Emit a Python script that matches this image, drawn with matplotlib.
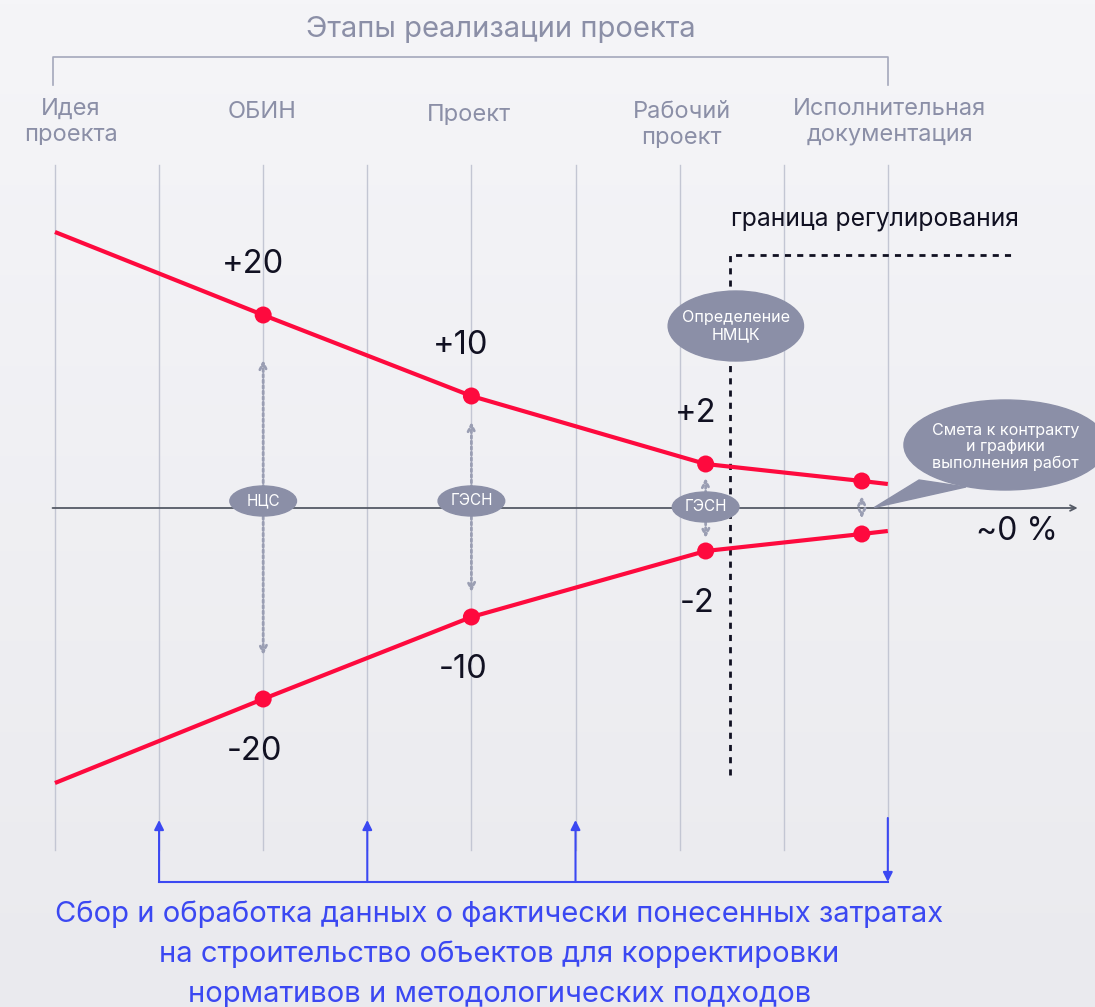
import matplotlib.pyplot as plt
import numpy as np
from matplotlib.patches import Ellipse, Polygon

plt.rcParams['font.family'] = ['Inter', 'DejaVu Sans']

# stages (grid columns 0..8)
stages = ['Идея\nпроекта', 'ОБИН', 'Проект', 'Рабочий\nпроект', 'Исполнительная\nдокументация']
stage_x = [0.15, 1.99, 3.98, 6.02, 8.02]
stage_y = [38.6, 39.6, 39.3, 38.3, 38.6]
grid_x = np.arange(9)

# deviation envelope (relative height units)
line_x = [0, 2, 4, 6.25, 7.75, 8]
upper = [27.6, 19.3, 11.2, 4.4, 2.7, 2.4]
lower = [-27.5, -19.1, -10.9, -4.3, -2.6, -2.3]
dot_x = [2, 4, 6.25, 7.75]
dot_up = [19.3, 11.2, 4.4, 2.7]
dot_lo = [-19.1, -10.9, -4.3, -2.6]
labels_up = ['+20', '+10', '+2']
labels_lo = ['-20', '-10', '-2']

# estimate tools on the axis
tools = ['НЦС', 'ГЭСН', 'ГЭСН']
tool_x = [2, 4, 6.25]
tool_y = [0.7, 0.7, 0.1]

feedback_x = [1, 3, 5]

red = '#fe0a3e'
grey = '#8b8fa7'
blue = '#3b48f2'
gridc = '#c3c6d3'

fig = plt.figure(figsize=(10.95, 10.07), dpi=100)
ax = fig.add_axes([0, 0, 1, 1])
ax.set_xlim(-0.528, 9.99)
ax.set_ylim(-49.9, 50.8)
ax.axis('off')

# soft background gradient
grad = np.linspace(0, 1, 256).reshape(-1, 1)
ax.imshow(grad, extent=[-0.528, 9.99, -49.9, 50.8], aspect='auto',
          cmap=plt.matplotlib.colors.LinearSegmentedColormap.from_list('bg', ['#f5f5f8', '#eaeaee']),
          zorder=0)

# vertical grid
for gx in grid_x:
    ax.plot([gx, gx], [-34.2, 34.3], color=gridc, lw=1, zorder=1)

# top bracket and title
ax.plot([-0.02, -0.02, 8.0, 8.0], [42.3, 45.1, 45.1, 42.3], color='#a4a8bb', lw=1.2, zorder=2)
ax.text(4.28, 47.8, 'Этапы реализации проекта', ha='center', va='center', fontsize=21, color=grey)
for s, sx, sy in zip(stages, stage_x, stage_y):
    ax.text(sx, sy, s, ha='center', va='center', fontsize=17, color=grey, linespacing=1.22)

# horizontal axis
ax.annotate('', xy=(9.85, 0), xytext=(-0.05, 0),
            arrowprops=dict(arrowstyle='->', color='#555a66', lw=1.3, mutation_scale=10), zorder=3)

# regulation boundary
ax.plot([6.48, 6.48, 9.22], [-26.7, 25.3, 25.3], color='#111122', lw=2,
        linestyle=(0, (2.2, 2.2)), zorder=4)
ax.text(6.49, 28.8, 'граница регулирования', ha='left', va='center', fontsize=17.8, color='#111122')

# dotted double arrows
def dotted(x, y0, y1):
    ax.annotate('', xy=(x, y1), xytext=(x, y0),
                arrowprops=dict(arrowstyle='->', color='#9a9eb3', lw=2, linestyle=(0, (1, 1)),
                                mutation_scale=12, shrinkA=0, shrinkB=0), zorder=3)

for x, top, bot in zip([2, 4, 6.25, 7.75], [14.8, 8.6, 3.0, 1.2], [-14.7, -8.4, -3.0, -1.0]):
    dotted(x, 0.3 if x != 7.75 else 0.45, top)
    dotted(x, -0.3 if x != 7.75 else -0.45, bot)

# envelope lines
ax.plot(line_x, upper, color=red, lw=3, zorder=5, solid_capstyle='butt')
ax.plot(line_x, lower, color=red, lw=3, zorder=5, solid_capstyle='butt')
ax.scatter(dot_x, dot_up, s=150, color=red, zorder=6, edgecolors='none')
ax.scatter(dot_x, dot_lo, s=150, color=red, zorder=6, edgecolors='none')

for lab, x, y in zip(labels_up, dot_x[:3], dot_up[:3]):
    ax.text(x - 0.1, y + 5.0, lab, ha='center', va='center', fontsize=23.5, color='#111122')
for lab, x, y in zip(labels_lo, dot_x[:3], dot_lo[:3]):
    ax.text(x - 0.08, y - 5.2, lab, ha='center', va='center', fontsize=23.5, color='#111122')
ax.text(9.24, -2.4, '~0 %', ha='center', va='center', fontsize=23, color='#111122')

# tool ellipses on the axis
for t, x, y in zip(tools, tool_x, tool_y):
    ax.add_patch(Ellipse((x, y), 0.64, 3.0, color=grey, zorder=7))
    ax.text(x, y, t, ha='center', va='center', fontsize=11, color='white', zorder=8)

ax.add_patch(Ellipse((6.54, 18.2), 1.3, 7.0, color=grey, zorder=7))
ax.text(6.54, 18.2, 'Определение\nНМЦК', ha='center', va='center', fontsize=11.6,
        color='white', zorder=8, linespacing=1.15)

# speech bubble
ax.add_patch(Ellipse((9.13, 6.3), 1.95, 9.0, color=grey, zorder=7))
ax.add_patch(Polygon([[8.3, 2.8], [7.87, 0.05], [8.75, 2.1]], closed=True, color=grey, zorder=7))
ax.text(9.13, 6.1, 'Смета к контракту\nи графики\nвыполнения работ', ha='center', va='center',
        fontsize=11.6, color='white', zorder=8, linespacing=1.1)

# feedback loop at the bottom
ax.plot([1, 8], [-37.4, -37.4], color=blue, lw=1.5, zorder=4)
for fx in feedback_x:
    ax.annotate('', xy=(fx, -31.2), xytext=(fx, -37.4),
                arrowprops=dict(arrowstyle='-|>', color=blue, lw=1.5, mutation_scale=14,
                                shrinkA=0, shrinkB=0), zorder=4)
ax.annotate('', xy=(8, -37.4), xytext=(8, -31.0),
            arrowprops=dict(arrowstyle='-|>', color=blue, lw=1.5, mutation_scale=14,
                            shrinkA=0, shrinkB=0), zorder=4)
ax.text(4.27, -44.6, 'Сбор и обработка данных о фактически понесенных затратах\n'
        'на строительство объектов для корректировки\n'
        'нормативов и методологических подходов',
        ha='center', va='center', fontsize=21, color=blue, linespacing=1.6)

fig.savefig('out.png', dpi=100)
